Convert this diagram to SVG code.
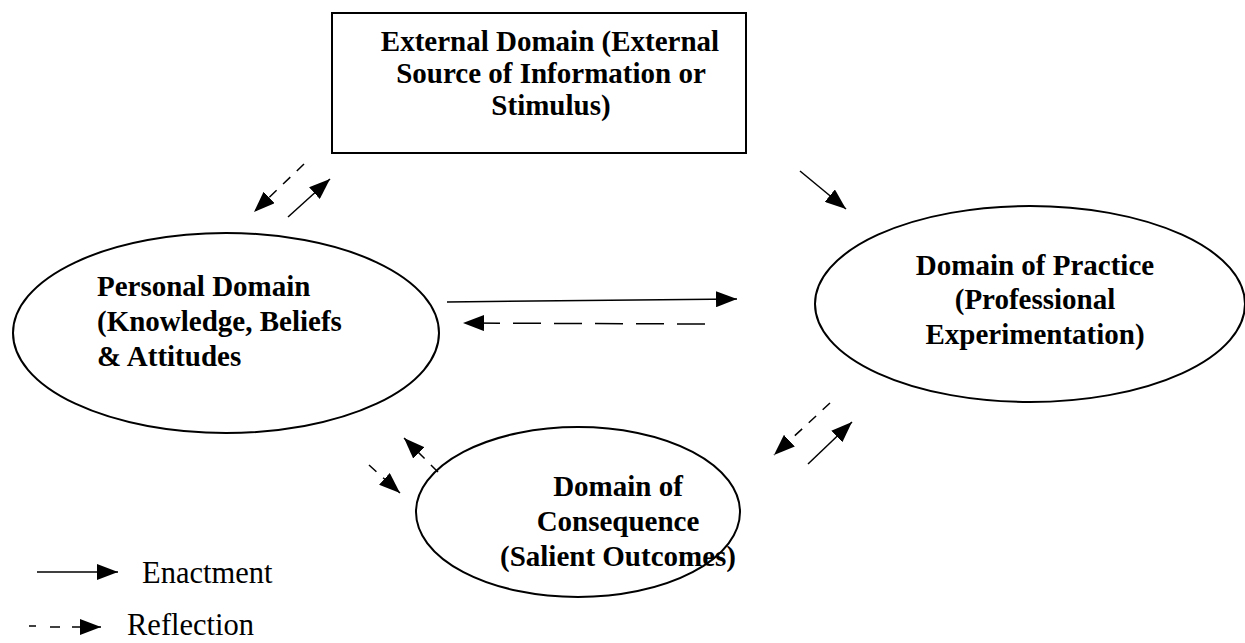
<svg xmlns="http://www.w3.org/2000/svg" width="1245" height="643" viewBox="0 0 1245 643">
<style>
.shape{fill:#fff;stroke:#000;stroke-width:2}
.lbl{font-family:"Liberation Serif","Times New Roman",serif;font-weight:bold;font-size:29px;fill:#000}
.leg{font-family:"Liberation Serif","Times New Roman",serif;font-size:30.5px;fill:#000}
.c{text-anchor:middle}
.solid{stroke:#000;stroke-width:1.5;fill:none;marker-end:url(#ah)}
.plain{stroke:#000;stroke-width:1.5;fill:none}
.dash{stroke:#000;stroke-width:1.5;fill:none;stroke-dasharray:10 9;marker-end:url(#ah)}
.dashlong{stroke:#000;stroke-width:1.5;fill:none;stroke-dasharray:28 13;marker-end:url(#ah)}
</style>
<defs>
<marker id="ah" markerUnits="userSpaceOnUse" markerWidth="22" markerHeight="16" refX="21" refY="8" orient="auto">
<path d="M0,0 L21,8 L0,16 Z" fill="#000"/>
</marker>
</defs>
<rect width="1245" height="643" fill="#fff"/>
<g id="external">
<rect class="shape" x="332" y="13" width="414" height="140"/>
<text class="lbl c" x="550" y="51">External Domain (External</text>
<text class="lbl c" x="551" y="83">Source of Information or</text>
<text class="lbl c" x="551" y="115">Stimulus)</text>
</g>
<g id="personal">
<ellipse class="shape" cx="226" cy="333" rx="213" ry="100"/>
<text class="lbl" x="97" y="296">Personal Domain</text>
<text class="lbl" x="97" y="331">(Knowledge, Beliefs</text>
<text class="lbl" x="97" y="366">&amp; Attitudes</text>
</g>
<g id="practice">
<ellipse class="shape" cx="1030" cy="304" rx="215" ry="98"/>
<text class="lbl c" x="1035" y="275">Domain of Practice</text>
<text class="lbl c" x="1035" y="309">(Professional</text>
<text class="lbl c" x="1035" y="344">Experimentation)</text>
</g>
<g id="consequence">
<ellipse class="shape" cx="578" cy="512" rx="162" ry="85"/>
<text class="lbl c" x="618" y="496">Domain of</text>
<text class="lbl c" x="618" y="531">Consequence</text>
<text class="lbl c" x="618" y="566">(Salient Outcomes)</text>
</g>
<g id="connectors">
<line class="dash" x1="304" y1="164" x2="254" y2="212"/>
<line class="solid" x1="288" y1="217" x2="330" y2="179"/>
<line class="solid" x1="800" y1="171" x2="846" y2="209"/>
<line class="solid" x1="447" y1="302" x2="737" y2="299"/>
<line class="dashlong" x1="705" y1="324" x2="463" y2="323"/>
<line class="dash" x1="369" y1="465" x2="400" y2="493"/>
<line class="dash" x1="438" y1="472" x2="404" y2="438"/>
<line class="dash" x1="830" y1="403" x2="774" y2="455"/>
<line class="solid" x1="808" y1="464" x2="852" y2="422"/>
</g>
<g id="legend">
<line class="solid" x1="37" y1="572" x2="118" y2="572"/>
<text class="leg" x="142" y="583">Enactment</text>
<line class="plain" x1="29" y1="626" x2="36" y2="626"/>
<line class="plain" x1="50" y1="627" x2="60" y2="627"/>
<line class="solid" x1="72" y1="627" x2="101" y2="627"/>
<text class="leg" x="127" y="635">Reflection</text>
</g>
</svg>
